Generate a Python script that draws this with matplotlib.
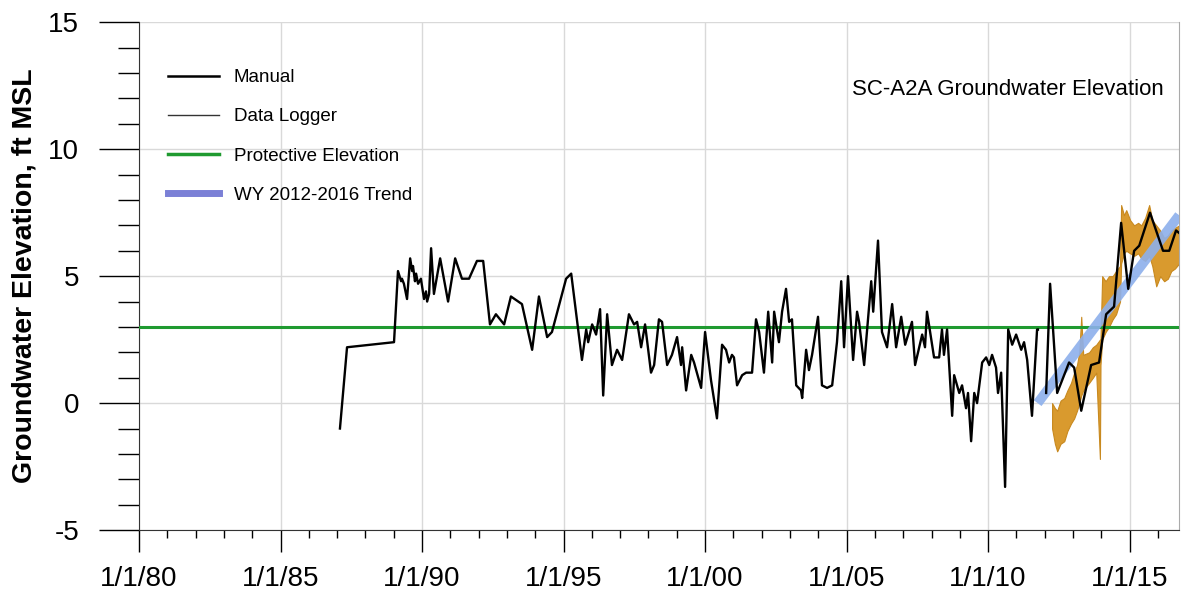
import matplotlib
matplotlib.use("Agg")
import matplotlib.pyplot as plt
from matplotlib.lines import Line2D

plt.rcParams['font.family'] = ['Liberation Sans', 'DejaVu Sans']
plt.rcParams['axes.unicode_minus'] = False

nan = float('nan')

# manual measurements (decimal year, ft MSL); nan marks a gap in the record
manual_year = [1987.10, 1987.35, 1989.01, 1989.15, 1989.26, 1989.29, 1989.36, 1989.47,
               1989.58, 1989.65, 1989.68, 1989.75, 1989.79, 1989.86, 1989.96, 1990.07,
               1990.14, 1990.18, 1990.25, 1990.32, 1990.42, 1990.64, 1990.92, 1991.17,
               1991.41, 1991.66, 1991.94, 1992.16, 1992.40, 1992.61, 1992.90, 1993.14,
               1993.53, 1993.89, 1994.13, 1994.42, 1994.59, 1995.09, 1995.27, 1995.65,
               1995.80, 1995.87, 1996.01, 1996.15, 1996.29, 1996.40, 1996.54, 1996.71,
               1996.89, 1997.07, 1997.31, 1997.49, 1997.60, 1997.74, 1997.88, 1998.09,
               1998.20, 1998.37, 1998.48, 1998.66, 1998.83, 1999.01, 1999.15, 1999.19,
               1999.33, 1999.51, 1999.61, 1999.86, 2000.00, 2000.21, 2000.42, 2000.60,
               2000.74, 2000.85, 2000.95, 2001.02, 2001.13, 2001.31, 2001.45, 2001.66,
               2001.80, 2001.91, 2002.08, 2002.23, 2002.37, 2002.44, 2002.61, 2002.72,
               2002.86, 2002.97, 2003.07, 2003.22, 2003.39, 2003.43, 2003.57, 2003.67,
               2003.78, 2003.99, 2004.13, 2004.31, 2004.49, 2004.66, 2004.81, 2004.91,
               2005.05, 2005.23, 2005.37, 2005.44, 2005.62, 2005.87, 2005.94, 2006.11,
               2006.25, 2006.43, 2006.61, 2006.75, 2006.93, 2007.07, 2007.31, 2007.42,
               2007.67, 2007.77, 2007.84, 2008.09, 2008.27, 2008.37, 2008.44, 2008.55,
               2008.73, 2008.80, 2008.98, 2009.08, 2009.22, 2009.29, 2009.40, 2009.51,
               2009.61, 2009.79, 2009.93, 2010.04, 2010.14, 2010.28, 2010.35, 2010.46,
               2010.60, 2010.71, 2010.85, 2010.99, 2011.17, 2011.27, 2011.38, 2011.55,
               2011.73, 2011.76, nan, 2012.05, 2012.19, 2012.44, 2012.86, 2013.04,
               2013.29, 2013.64, 2013.92, 2014.17, 2014.45, 2014.70, 2014.95, 2015.16,
               2015.34, 2015.72, 2016.18, 2016.40, 2016.64, 2016.75]
manual_elev = [-1.0, 2.2, 2.4, 5.2, 4.8, 4.9, 4.7, 4.1,
               5.7, 5.2, 5.4, 4.8, 5.1, 4.7, 4.9, 4.1,
               4.4, 4.0, 4.3, 6.1, 4.3, 5.7, 4.0, 5.7,
               4.9, 4.9, 5.6, 5.6, 3.1, 3.5, 3.1, 4.2,
               3.9, 2.1, 4.2, 2.6, 2.8, 4.9, 5.1, 1.7,
               2.9, 2.4, 3.1, 2.7, 3.7, 0.3, 3.5, 1.5,
               2.1, 1.7, 3.5, 3.1, 3.2, 2.2, 3.1, 1.2,
               1.5, 3.3, 3.2, 1.5, 1.9, 2.6, 1.5, 2.2,
               0.5, 1.9, 1.6, 0.6, 2.8, 0.9, -0.6, 2.3,
               2.1, 1.6, 1.9, 1.8, 0.7, 1.1, 1.2, 1.2,
               3.3, 2.8, 1.2, 3.6, 1.6, 3.6, 2.4, 3.6,
               4.5, 3.2, 3.3, 0.7, 0.5, 0.2, 2.1, 1.3,
               1.9, 3.4, 0.7, 0.6, 0.7, 2.4, 4.8, 2.2,
               5.0, 1.7, 3.6, 3.2, 1.5, 4.8, 3.6, 6.4,
               2.8, 2.2, 3.9, 2.2, 3.4, 2.3, 3.2, 1.5,
               2.7, 2.2, 3.6, 1.8, 1.8, 2.9, 1.9, 2.9,
               -0.5, 1.1, 0.4, 0.7, -0.2, 0.4, -1.5, 0.4,
               0.0, 1.6, 1.8, 1.5, 1.9, 1.4, 0.4, 1.2,
               -3.3, 2.9, 2.3, 2.7, 2.1, 2.4, 1.7, -0.5,
               2.9, 2.9, nan, 0.4, 4.7, 0.4, 1.6, 1.4,
               -0.3, 1.5, 1.6, 3.5, 3.8, 7.1, 4.5, 6.0,
               6.2, 7.5, 6.0, 6.0, 6.8, 6.7]

# data logger record, drawn as its range band
logger_year = [2012.26, 2012.36, 2012.44, 2012.56, 2012.69, 2012.80, 2012.93, 2013.04,
               2013.14, 2013.22, 2013.29, 2013.36, 2013.57, 2013.70, 2013.82, 2013.95,
               2013.97, 2014.03, 2014.15, 2014.27, 2014.40, 2014.52, 2014.66, 2014.70,
               2014.80, 2014.88, 2015.02, 2015.16, 2015.30, 2015.41, 2015.55, 2015.69,
               2015.80, 2015.94, 2016.08, 2016.22, 2016.35, 2016.47, 2016.60, 2016.75]
logger_low = [-1.0, -1.6, -1.9, -1.6, -1.5, -1.1, -0.8, -0.6,
              -0.3, 0.0, 0.3, 0.5, 0.8, 1.0, 1.2, -2.2,
              1.5, 2.5, 2.8, 3.0, 3.3, 3.5, 4.0, 5.5,
              5.9, 6.0, 5.9, 5.8, 5.9, 5.7, 5.6, 5.8,
              5.4, 4.6, 5.0, 4.8, 4.9, 5.2, 5.3, 5.5]
logger_high = [0.0, -0.2, -0.3, 0.1, 0.2, 0.5, 0.8, 1.2,
               1.5, 2.0, 3.4, 1.9, 2.0, 2.2, 2.3, 2.5,
               2.5, 5.0, 4.8, 5.0, 5.0, 5.2, 5.4, 7.8,
               7.4, 7.6, 7.2, 7.0, 7.1, 7.0, 7.3, 7.8,
               7.2, 7.0, 6.8, 6.5, 6.6, 6.8, 6.9, 7.0]

protective_elev = 3.0
trend_year = [2011.75, 2016.75]
trend_elev = [0.0, 7.4]

xticks = [1980, 1985, 1990, 1995, 2000, 2005, 2010, 2015]
xtick_labels = ['1/1/80', '1/1/85', '1/1/90', '1/1/95', '1/1/00', '1/1/05', '1/1/10', '1/1/15']

fig = plt.figure(figsize=(11.82, 6.01), dpi=100)
ax = fig.add_axes([0.1176, 0.118, 0.880, 0.845])

ax.fill_between(logger_year, logger_low, logger_high, color='#d99a2e', lw=0.8,
                edgecolor='#c8891f', zorder=2)
ax.axhline(protective_elev, color='#1f9a30', lw=2.2, zorder=3)
ax.plot(trend_year, trend_elev, color='#8db0ec', lw=7, alpha=0.9,
        solid_capstyle='butt', zorder=4)
ax.plot(manual_year, manual_elev, color='black', lw=1.7, zorder=5)

ax.set_xlim(1980, 2016.75)
ax.set_ylim(-5, 15)
ax.set_xticks(xticks)
ax.set_xticklabels(xtick_labels)
ax.set_xticks(range(1981, 2017), minor=True)
ax.set_yticks([-5, 0, 5, 10, 15])
ax.set_yticks(range(-4, 15), minor=True)

ax.grid(True, which='major', color='#d9d9d9', lw=1.0)
ax.set_axisbelow(True)
ax.tick_params(axis='y', which='major', direction='out', length=29, width=1,
               labelsize=20, pad=14)
ax.tick_params(axis='y', which='minor', direction='out', length=15, width=1)
ax.tick_params(axis='x', which='major', direction='out', length=16, width=1,
               labelsize=20, pad=10)
ax.tick_params(axis='x', which='minor', direction='out', length=6, width=1)

ax.spines['top'].set_visible(False)
ax.spines['right'].set_color('#aaaaaa')
for s in ['left', 'bottom']:
    ax.spines[s].set_color('#333333')

ax.set_ylabel('Groundwater Elevation, ft MSL', fontsize=20.5, fontweight='bold',
              labelpad=8)

ax.text(0.985, 0.868, 'SC-A2A Groundwater Elevation', transform=ax.transAxes,
        ha='right', va='center', fontsize=16)

handles = [
    Line2D([], [], color='black', lw=1.8),
    Line2D([], [], color='#333333', lw=1.0),
    Line2D([], [], color='#1f9a30', lw=2.5),
    Line2D([], [], color='#7b80d6', lw=5),
]
labels = ['Manual', 'Data Logger', 'Protective Elevation', 'WY 2012-2016 Trend']
ax.legend(handles, labels, loc='upper left', bbox_to_anchor=(0.012, 0.941),
          frameon=False, fontsize=13.5, handlelength=2.7, labelspacing=1.18,
          handletextpad=0.8)

fig.savefig('out.png', dpi=100)
